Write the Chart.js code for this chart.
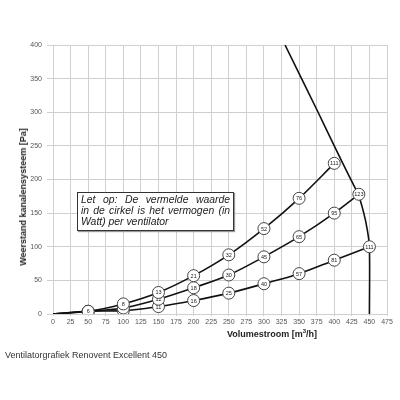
<!DOCTYPE html>
<html>
<head>
<meta charset="utf-8">
<script src="https://cdn.jsdelivr.net/npm/chart.js@4"></script>
<style>
  body { margin: 0; background: #fff; font-family: "Liberation Sans", Arial, sans-serif; }
  #wrap { position: relative; width: 400px; height: 400px; }
  #chart { position: absolute; left: 0; top: 0; }
  .ytitle { position: absolute; left: 23px; top: 197px; transform: translate(-50%, -50%) rotate(-90deg);
    font-weight: bold; font-size: 9px; color: #222; white-space: nowrap; }
  .xtitle { position: absolute; left: 272px; top: 333px; transform: translate(-50%, -50%);
    font-weight: bold; font-size: 9px; color: #222; white-space: nowrap; }
  .note { position: absolute; left: 77px; top: 192px; width: 149px; height: 36px; padding: 1px 3px 0 3px;
    border: 1.5px solid #333; background: #fff; font-style: italic; font-size: 10.4px; line-height: 11px;
    color: #222; box-shadow: 1px 1px 1px #999; }
  .note span { display: block; white-space: nowrap; }
  .note .full { text-align: justify; text-align-last: justify; }
  .caption { position: absolute; left: 5px; top: 350px; font-size: 9px; color: #333; white-space: nowrap; }
</style>
</head>
<body>
<div id="wrap">
  <canvas id="chart" width="400" height="400"></canvas>
  <div class="ytitle">Weerstand kanalensysteem [Pa]</div>
  <div class="xtitle">Volumestroom [m<sup style="font-size:6px">3</sup>/h]</div>
  <div class="note"><span class="full">Let op: De vermelde waarde</span><span class="full">in de cirkel is het vermogen (in</span><span>Watt) per ventilator</span></div>
  <div class="caption">Ventilatorgrafiek Renovent Excellent 450</div>
</div>
<script>
/************ 데이터 ************/
const flowHigh = [0, 50, 100, 150, 200, 250, 300, 350, 400];
const presHigh = [0, 4, 15, 32, 57, 88, 127, 172, 224];
const wattHigh = ['', '6', '8', '13', '21', '32', '52', '76', '111'];

const flowMid = [0, 50, 100, 150, 200, 250, 300, 350, 400, 435];
const presMid = [0, 4, 9, 22, 39, 58, 85, 115, 150, 178];
const wattMid = ['', '6', '', '12', '18', '30', '45', '65', '95', '123'];

const flowLow = [0, 50, 100, 150, 200, 250, 300, 350, 400, 450];
const presLow = [0, 4, 5, 11, 20, 31, 45, 60, 80, 100];
const wattLow = ['', '6', '', '11', '16', '25', '40', '57', '81', '111'];

const fanFlow = [330, 377, 400, 424, 434, 442, 447, 450, 450];
const fanPres = [400, 300, 250, 199, 178, 150, 125, 100, 0];

const xTicks = [0, 25, 50, 75, 100, 125, 150, 175, 200, 225, 250, 275, 300, 325, 350, 375, 400, 425, 450, 475];
const yTicks = [0, 50, 100, 150, 200, 250, 300, 350, 400];

function toPoints(xs, ys) {
  return xs.map(function (x, i) { return { x: x, y: ys[i] }; });
}

function curve(xs, ys, watts, order) {
  return {
    data: toPoints(xs, ys),
    watt: watts,
    order: order,
    borderColor: '#111',
    borderWidth: 1.6,
    cubicInterpolationMode: 'monotone',
    pointRadius: watts.map(function (w, i) { return i === 0 ? 0 : 6; }),
    pointBackgroundColor: '#fff',
    pointBorderColor: '#444',
    pointBorderWidth: 1,
    pointHoverRadius: 6
  };
}

// 원 안의 와트 표시
const wattLabels = {
  id: 'wattLabels',
  afterDatasetDraw: function (chart, args) {
    const ds = chart.data.datasets[args.index];
    if (!ds.watt) return;
    const c = chart.ctx;
    c.save();
    c.font = '5.5px "Liberation Sans", Arial, sans-serif';
    c.fillStyle = '#222';
    c.textAlign = 'center';
    c.textBaseline = 'middle';
    args.meta.data.forEach(function (pt, i) {
      if (ds.watt[i]) c.fillText(ds.watt[i], pt.x, pt.y + 0.5);
    });
    c.restore();
  }
};

const ctx = document.getElementById('chart');

new Chart(ctx, {
  type: 'line',
  data: {
    datasets: [
      curve(flowHigh, presHigh, wattHigh, 1),
      curve(flowMid, presMid, wattMid, 2),
      curve(flowLow, presLow, wattLow, 3),
      {
        data: toPoints(fanFlow, fanPres),
        order: 10,
        borderColor: '#111',
        borderWidth: 1.6,
        tension: 0.3,
        pointRadius: 0
      }
    ]
  },
  options: {
    responsive: false,
    animation: false,
    events: [],
    layout: { padding: { left: 0, top: 45, right: 13, bottom: 0 } },
    plugins: { legend: { display: false }, tooltip: { enabled: false } },
    scales: {
      x: {
        type: 'linear',
        min: 0,
        max: 475,
        afterBuildTicks: function (s) { s.ticks = xTicks.map(function (v) { return { value: v }; }); },
        afterFit: function (s) { s.height = 86; },
        grid: { color: '#d0d0d0', lineWidth: 1, tickLength: 2 },
        border: { color: '#d0d0d0' },
        ticks: { font: { size: 7, family: '"Liberation Sans", Arial' }, color: '#555', padding: 2, maxRotation: 0, autoSkip: false }
      },
      y: {
        min: 0,
        max: 400,
        afterBuildTicks: function (s) { s.ticks = yTicks.map(function (v) { return { value: v }; }); },
        afterFit: function (s) { s.width = 53; },
        grid: { color: '#d0d0d0', lineWidth: 1, tickLength: 6 },
        border: { color: '#d0d0d0' },
        ticks: { font: { size: 7, family: '"Liberation Sans", Arial' }, color: '#555', padding: 5 }
      }
    }
  },
  plugins: [wattLabels]
});
</script>
</body>
</html>
